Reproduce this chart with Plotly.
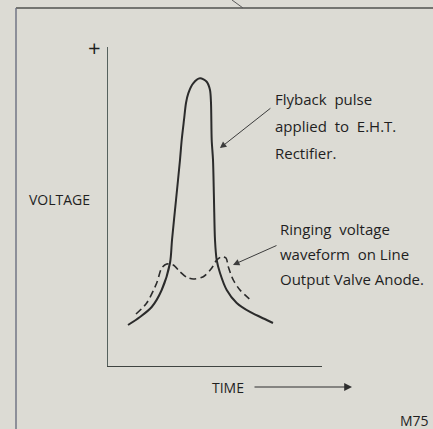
import plotly.graph_objects as go

# Flyback pulse applied to the E.H.T. rectifier (solid trace), arbitrary units
time_pulse = [9.35, 14.95, 20.42, 25.09, 28.97, 29.91, 31.78, 33.64, 34.44, 35.51,
              36.45, 37.52, 39.81, 42.99, 46.12, 47.66, 48.13, 48.46, 49.07, 49.53,
              50.00, 50.79, 52.34, 55.47, 60.14, 66.36, 74.16, 77.10]
volt_pulse = [12.85, 15.36, 18.50, 23.82, 32.29, 39.50, 52.04, 64.58, 70.85, 77.12,
              82.45, 85.49, 88.62, 90.19, 89.12, 86.52, 82.45, 70.85, 64.58, 52.04,
              39.50, 33.23, 29.15, 23.82, 19.75, 16.93, 14.42, 13.48]

# Ringing voltage on the line output valve anode (dashed trace)
time_ring = [13.08, 18.08, 22.76, 25.09, 27.43, 30.51, 33.64, 36.78, 39.86, 44.53,
             48.41, 50.79, 53.13, 55.14, 56.21, 58.55, 61.68, 67.15]
volt_ring = [16.30, 19.75, 26.02, 30.72, 31.97, 31.66, 29.56, 27.81, 27.27, 27.99,
             30.63, 33.23, 34.26, 33.86, 31.13, 26.96, 23.82, 20.38]

# Points the two leader arrows touch
pulse_arrow_at = (52.3, 68.3)
ring_arrow_at = (58.4, 31.7)

pulse_label = ["Flyback  pulse", "applied  to  E.H.T.", "Rectifier."]
ring_label = ["Ringing  voltage", "waveform  on Line", "Output Valve Anode."]

W, H = 433, 429
ML, MR, MT, MB = 108, 111, 47, 63
PW, PH = W - ML - MR, H - MT - MB

BG = "#dcdbd4"
INK = "#2b2b2b"
TXT = "#1f1f1f"
FONT = "Open Sans"


def px(x):
    return (x - ML) / PW


def py(y):
    return (H - MB - y) / PH


fig = go.Figure()
fig.add_trace(go.Scatter(x=time_pulse, y=volt_pulse, mode="lines",
                         line=dict(color=INK, width=2, shape="spline", smoothing=0.8),
                         hoverinfo="skip", showlegend=False))
fig.add_trace(go.Scatter(x=time_ring, y=volt_ring, mode="lines",
                         line=dict(color=INK, width=1.6, dash="7px,4px",
                                   shape="spline", smoothing=0.8),
                         hoverinfo="skip", showlegend=False))

ann = []
txt_font = dict(family=FONT, size=15, color=TXT)
for i, s in enumerate(pulse_label):
    ann.append(dict(xref="paper", yref="paper", x=px(273), y=py(99 + 27 * i),
                    text=s, showarrow=False, xanchor="left", yanchor="middle",
                    font=txt_font))
for i, s in enumerate(ring_label):
    ann.append(dict(xref="paper", yref="paper", x=px(278), y=py(228.5 + 25 * i),
                    text=s, showarrow=False, xanchor="left", yanchor="middle",
                    font=txt_font))

# leader arrows
ann.append(dict(x=pulse_arrow_at[0], y=pulse_arrow_at[1], xref="x", yref="y",
                text="", showarrow=True, ax=52, ay=-41, arrowhead=2,
                arrowsize=1.3, arrowwidth=1, arrowcolor="#3c3c3c"))
ann.append(dict(x=ring_arrow_at[0], y=ring_arrow_at[1], xref="x", yref="y",
                text="", showarrow=True, ax=45, ay=-20, arrowhead=2,
                arrowsize=1.3, arrowwidth=1, arrowcolor="#3c3c3c"))

# axis captions
ann.append(dict(xref="paper", yref="paper", x=px(27), y=py(199), text="VOLTAGE",
                showarrow=False, xanchor="left", yanchor="middle",
                font=dict(family=FONT, size=14, color=TXT)))
ann.append(dict(xref="paper", yref="paper", x=px(94), y=py(47), text="+",
                showarrow=False, xanchor="center", yanchor="middle",
                font=dict(family=FONT, size=22, color=TXT)))
ann.append(dict(xref="paper", yref="paper", x=px(210), y=py(387.5), text="TIME",
                showarrow=False, xanchor="left", yanchor="middle",
                font=dict(family=FONT, size=14, color=TXT)))
ann.append(dict(xref="paper", yref="paper", x=px(352), y=py(387), text="",
                axref="pixel", ax=-99, ay=0, showarrow=True, arrowhead=2,
                arrowsize=1.3, arrowwidth=1.2, arrowcolor="#2e2e2e"))
ann.append(dict(xref="paper", yref="paper", x=px(431), y=py(420), text="M75",
                showarrow=False, xanchor="right", yanchor="middle",
                font=dict(family=FONT, size=14, color=TXT)))

shapes = [
    # frame around the figure
    dict(type="line", xref="paper", yref="paper", x0=px(16), y0=py(8),
         x1=px(433), y1=py(8), line=dict(color="#50524f", width=1.4)),
    dict(type="line", xref="paper", yref="paper", x0=px(16), y0=py(8),
         x1=px(16), y1=py(429), line=dict(color="#6a6f80", width=1.4)),
    dict(type="line", xref="paper", yref="paper", x0=px(232), y0=py(0),
         x1=px(243), y1=py(8), line=dict(color="#5a5a5a", width=1)),
]

axis_common = dict(range=[0, 100], showgrid=False, zeroline=False,
                   showticklabels=False, ticks="", showline=True,
                   linewidth=1.4, fixedrange=True)
fig.update_layout(
    width=W, height=H, autosize=False,
    margin=dict(l=ML, r=MR, t=MT, b=MB, pad=0),
    paper_bgcolor=BG, plot_bgcolor=BG,
    xaxis=dict(**axis_common, linecolor="#3f4441"),
    yaxis=dict(**axis_common, linecolor="#56625e"),
    annotations=ann, shapes=shapes, showlegend=False,
)

fig.write_html("out.html")
